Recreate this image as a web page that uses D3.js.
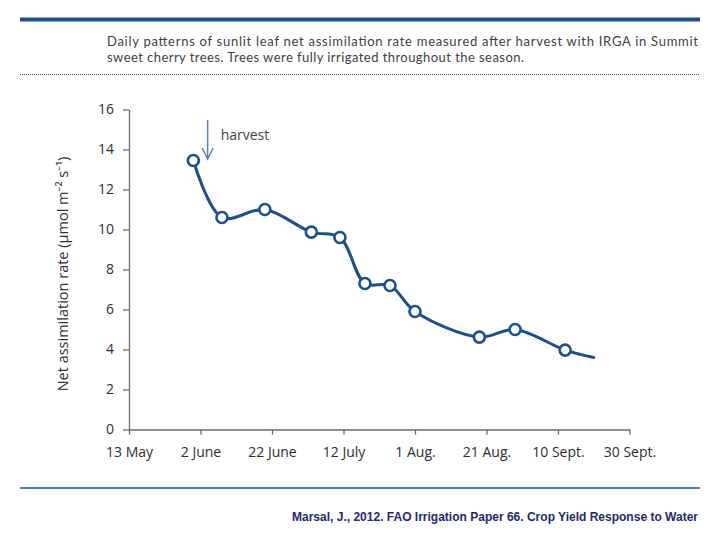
<!DOCTYPE html>
<html>
<head>
<meta charset="utf-8">
<script src="https://cdn.jsdelivr.net/npm/d3@7"></script>
<style>
  html, body { margin: 0; padding: 0; background: #fff; }
  svg { display: block; }
</style>
</head>
<body>
<svg id="chart" width="720" height="540"></svg>
<script>
// ---- data ----
const captionLines = [
  "Daily patterns of sunlit leaf net assimilation rate measured after harvest with IRGA in Summit",
  "sweet cherry trees. Trees were fully irrigated throughout the season."
];
const xTickDates = ["2012-05-13","2012-06-02","2012-06-22","2012-07-12","2012-08-01","2012-08-21","2012-09-10","2012-09-30"];
const xTickLabels = ["13 May","2 June","22 June","12 July","1 Aug.","21 Aug.","10 Sept.","30 Sept."];
const yTicks = [0, 2, 4, 6, 8, 10, 12, 14, 16];
const pointDates = ["2012-05-31","2012-06-08","2012-06-20","2012-07-03","2012-07-11","2012-07-18","2012-07-25","2012-08-01","2012-08-19","2012-08-29","2012-09-12"];
const pointValues = [13.45, 10.6, 11.0, 9.87, 9.6, 7.3, 7.2, 5.9, 4.62, 5.0, 3.97];
const lineEndDate = "2012-09-20";
const lineEndValue = 3.6;
const harvestDate = "2012-06-04";
const yLabel = "Net assimilation rate (\u00b5mol m\u207b\u00b2 s\u207b\u00b9)";
const credit = "Marsal, J., 2012. FAO Irrigation Paper 66. Crop Yield Response to Water";

// ---- drawing ----
const svg = d3.select("#chart");
const parse = d3.utcParse("%Y-%m-%d");
const blue = "#1d4f8c";

// header rules
svg.append("rect").attr("x", 20).attr("y", 17.5).attr("width", 680).attr("height", 4).attr("fill", "#1b4f8a");
svg.append("line").attr("x1", 20).attr("x2", 700).attr("y1", 74.5).attr("y2", 74.5)
  .attr("stroke", "#555").attr("stroke-width", 1).attr("stroke-dasharray", "1,1");

// caption
const capFont = "Lato, 'Open Sans', sans-serif";
svg.append("text").attr("x", 107).attr("y", 46).attr("font-family", capFont).attr("font-size", 13)
  .attr("fill", "#404040").attr("textLength", 591).attr("lengthAdjust", "spacing").text(captionLines[0]);
svg.append("text").attr("x", 107).attr("y", 61.8).attr("font-family", capFont).attr("font-size", 13)
  .attr("fill", "#404040").attr("textLength", 417).attr("lengthAdjust", "spacing").text(captionLines[1]);

// footer
svg.append("rect").attr("x", 20).attr("y", 487).attr("width", 680).attr("height", 2).attr("fill", "#3f7fbf");
svg.append("text").attr("x", 698).attr("y", 521).attr("text-anchor", "end")
  .attr("font-family", "'Liberation Sans', Arial, sans-serif").attr("font-size", 12.5).attr("font-weight", "bold")
  .attr("fill", "#25286a").attr("textLength", 406).attr("lengthAdjust", "spacingAndGlyphs").text(credit);

// scales
const x = d3.scaleUtc().domain([parse(xTickDates[0]), parse(xTickDates[xTickDates.length - 1])]).range([129, 629.5]);
const y = d3.scaleLinear().domain([0, 16]).range([429.5, 109.5]);

const axisFont = "'Open Sans', 'Noto Sans', sans-serif";
const axisColor = "#6b6b6b";
const labelColor = "#2e2e2e";

// y axis
const gy = svg.append("g").attr("transform", "translate(129,0)")
  .call(d3.axisLeft(y).tickValues(yTicks).tickSize(6).tickSizeOuter(0).tickPadding(9));
gy.selectAll("path, line").attr("stroke", axisColor).attr("stroke-width", 1.3);
gy.selectAll("text").attr("font-family", axisFont).attr("font-size", 14).attr("fill", labelColor);

// x axis
const gx = svg.append("g").attr("transform", "translate(0,429.5)")
  .call(d3.axisBottom(x).tickValues(xTickDates.map(parse))
    .tickFormat((d, i) => xTickLabels[i]).tickSize(5).tickSizeOuter(0).tickPadding(13));
gx.selectAll("path, line").attr("stroke", axisColor).attr("stroke-width", 1.3);
gx.selectAll("text").attr("font-family", axisFont).attr("font-size", 14).attr("fill", labelColor);

// y label
svg.append("text").attr("transform", "translate(68,274) rotate(-90)").attr("text-anchor", "middle")
  .attr("font-family", axisFont).attr("font-size", 14.5).attr("fill", labelColor).text(yLabel);

// data line
const pts = pointDates.map((d, i) => ({ date: parse(d), value: pointValues[i] }));
const linePts = pts.concat([{ date: parse(lineEndDate), value: lineEndValue }]);
const line = d3.line().x(d => x(d.date)).y(d => y(d.value)).curve(d3.curveCatmullRom.alpha(0.5));
svg.append("path").datum(linePts).attr("d", line).attr("fill", "none")
  .attr("stroke", blue).attr("stroke-width", 3).attr("stroke-linejoin", "round").attr("stroke-linecap", "round");

svg.append("g").selectAll("circle").data(pts).join("circle")
  .attr("cx", d => x(d.date)).attr("cy", d => y(d.value)).attr("r", 5.5)
  .attr("fill", "#fff").attr("stroke", blue).attr("stroke-width", 2.6);

// harvest arrow
const hx = x(parse(harvestDate));
const arrowColor = "#5b7fb0";
svg.append("line").attr("x1", hx).attr("x2", hx).attr("y1", 120).attr("y2", 159)
  .attr("stroke", arrowColor).attr("stroke-width", 1.5);
svg.append("path").attr("d", `M${hx - 5.5},${148} L${hx},${159} L${hx + 5.5},${148}`)
  .attr("fill", "none").attr("stroke", arrowColor).attr("stroke-width", 1.5);
svg.append("text").attr("x", hx + 13).attr("y", 140).attr("font-family", axisFont).attr("font-size", 14)
  .attr("fill", "#444").text("harvest");
</script>
</body>
</html>
